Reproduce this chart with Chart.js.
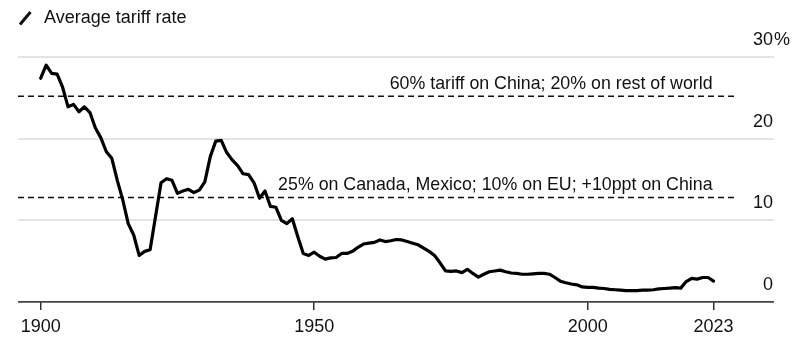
<!DOCTYPE html>
<html>
<head>
<meta charset="utf-8">
<script src="https://cdn.jsdelivr.net/npm/chart.js@4.4.1/dist/chart.umd.min.js"></script>
<style>
html,body{margin:0;padding:0;background:#fff;}
#wrap{width:807px;height:342px;position:relative;}
</style>
</head>
<body>
<div id="wrap"><canvas id="c" width="807" height="342"></canvas></div>
<script>
// ---- data ----
const title = "Average tariff rate";
const firstYear = 1900;
const tariffRate = [
  27.4, 29.0, 28.0, 27.9, 26.3, 23.9, 24.2, 23.3, 23.9, 23.2,   // 1900-1909
  21.3, 20.1, 18.4, 17.6, 14.9, 12.5, 9.6, 8.2, 5.7, 6.2,       // 1910-1919
  6.4, 10.5, 14.6, 15.1, 14.9, 13.3, 13.6, 13.8, 13.4, 13.7,    // 1920-1929
  14.7, 17.8, 19.7, 19.8, 18.3, 17.4, 16.7, 15.7, 15.6, 14.6,   // 1930-1939
  12.7, 13.6, 11.7, 11.6, 10.0, 9.6, 10.2, 8.0, 5.95, 5.7,      // 1940-1949
  6.1, 5.6, 5.25, 5.4, 5.45, 5.95, 5.95, 6.2, 6.7, 7.1,         // 1950-1959
  7.2, 7.3, 7.6, 7.4, 7.5, 7.65, 7.6, 7.4, 7.2, 7.0,            // 1960-1969
  6.6, 6.2, 5.7, 4.8, 3.8, 3.75, 3.8, 3.6, 4.0, 3.5,            // 1970-1979
  3.05, 3.4, 3.7, 3.8, 3.9, 3.7, 3.55, 3.5, 3.4, 3.4,           // 1980-1989
  3.45, 3.5, 3.5, 3.4, 3.0, 2.55, 2.35, 2.2, 2.1, 1.85,         // 1990-1999
  1.8, 1.8, 1.7, 1.65, 1.55, 1.5, 1.45, 1.4, 1.4, 1.4,          // 2000-2009
  1.45, 1.45, 1.5, 1.6, 1.65, 1.7, 1.75, 1.7, 2.5, 2.9,         // 2010-2019
  2.8, 3.0, 3.0, 2.55                                           // 2020-2023
];
const years = tariffRate.map((_, i) => firstYear + i);

const scenarioLevels = [25.2, 12.8];
const scenarioLabels = [
  "60% tariff on China; 20% on rest of world",
  "25% on Canada, Mexico; 10% on EU; +10ppt on China"
];
const scenarioStartYear = 1895.85;
const scenarioEndYear = 2027;
const scenarioLabelYear = 2023;

const xTicks = [1900, 1950, 2000, 2023];
const yTicks = [0, 10, 20, 30];
const yTopSuffix = "%";

const xMin = 1895.85, xMax = 2034.05;
const yMin = 0, yMax = 30;

// ---- chart ----
const FONT = '"Liberation Sans", Arial, Helvetica, sans-serif';

const mainSeries = {
  label: title,
  data: years.map((y, i) => ({ x: y, y: tariffRate[i] })),
  borderColor: '#000',
  borderWidth: 3.2,
  pointRadius: 0,
  tension: 0,
  borderJoinStyle: 'round',
  borderCapStyle: 'round',
  order: 0
};
const scenarioSeries = scenarioLevels.map((lvl, i) => ({
  label: scenarioLabels[i],
  data: [{ x: scenarioStartYear, y: lvl }, { x: scenarioEndYear, y: lvl }],
  borderColor: '#111',
  borderWidth: 1.6,
  borderDash: [6, 4],
  pointRadius: 0,
  order: 1
}));

const textPlugin = {
  id: 'texts',
  afterDraw(chart) {
    const ctx = chart.ctx;
    const xs = chart.scales.x, ys = chart.scales.y;
    const area = chart.chartArea;
    ctx.save();
    // title with slash icon
    ctx.strokeStyle = '#111';
    ctx.lineWidth = 3;
    ctx.lineCap = 'butt';
    ctx.beginPath();
    ctx.moveTo(20, 24.5);
    ctx.lineTo(30.5, 12);
    ctx.stroke();
    ctx.fillStyle = '#111';
    ctx.font = '18px ' + FONT;
    ctx.textAlign = 'left';
    ctx.textBaseline = 'middle';
    ctx.fillText(title, 44, 18.5);

    // y labels above grid lines, right side
    ctx.font = '18px ' + FONT;
    yTicks.forEach((v, i) => {
      const py = ys.getPixelForValue(v) - 17;
      const px = area.right - 1;
      ctx.textAlign = 'right';
      ctx.fillText(String(v), px, py);
      if (i === yTicks.length - 1) {
        ctx.textAlign = 'left';
        ctx.fillText(yTopSuffix, px + 1, py);
      }
    });

    // scenario annotations
    ctx.font = '17.8px ' + FONT;
    scenarioLevels.forEach((lvl, i) => {
      const px = xs.getPixelForValue(scenarioLabelYear) - 1;
      const py = ys.getPixelForValue(lvl) - 12.5;
      ctx.textAlign = 'right';
      ctx.fillText(scenarioLabels[i], px, py);
    });
    ctx.restore();
  }
};

new Chart(document.getElementById('c'), {
  type: 'line',
  data: { datasets: [mainSeries, ...scenarioSeries] },
  options: {
    responsive: false,
    animation: false,
    devicePixelRatio: 1,
    layout: { padding: { left: 18, right: 33, top: 57, bottom: 0 } },
    plugins: { legend: { display: false }, tooltip: { enabled: false } },
    scales: {
      x: {
        type: 'linear',
        min: xMin, max: xMax,
        position: 'bottom',
        border: { display: false },
        grid: { drawOnChartArea: false, drawTicks: true, tickLength: 8, color: '#333', lineWidth: 1.5 },
        ticks: {
          color: '#111',
          font: { family: FONT, size: 18 },
          padding: 6,
          autoSkip: false,
          maxRotation: 0,
          callback: v => String(v)
        },
        afterBuildTicks: s => { s.ticks = xTicks.map(v => ({ value: v })); },
        afterFit: s => { s.height = 40; }
      },
      y: {
        type: 'linear',
        min: yMin, max: yMax,
        position: 'left',
        border: { display: false },
        grid: {
          drawTicks: false,
          color: c => (c.tick && c.tick.value === 0) ? '#444' : '#e3e3e3',
          lineWidth: c => (c.tick && c.tick.value === 0) ? 1.8 : 2
        },
        ticks: { display: false },
        afterBuildTicks: s => { s.ticks = yTicks.map(v => ({ value: v })); },
        afterFit: s => { s.width = 0; }
      }
    }
  },
  plugins: [textPlugin]
});
</script>
</body>
</html>
